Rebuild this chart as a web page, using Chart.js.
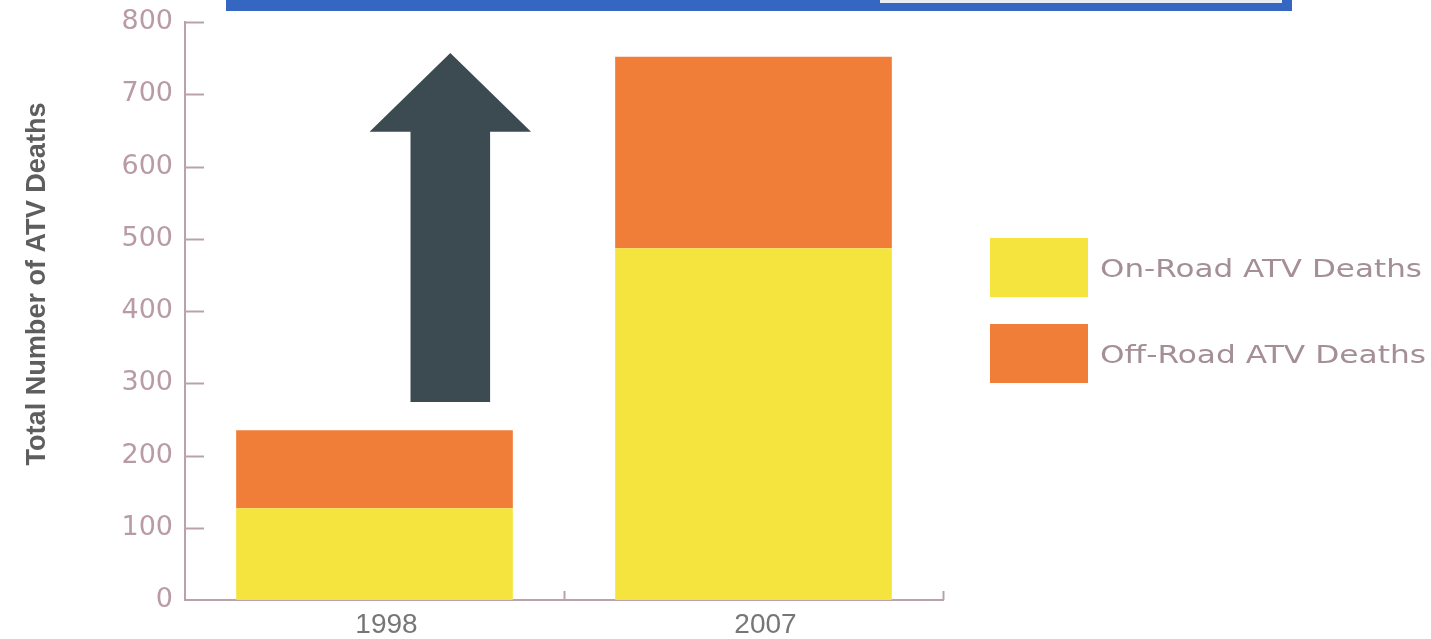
<!DOCTYPE html>
<html>
<head>
<meta charset="utf-8">
<script src="https://cdn.jsdelivr.net/npm/chart.js@4"></script>
<style>
  html, body { margin: 0; padding: 0; background: #fff; }
  #wrap { width: 1431px; height: 639px; position: relative; }
</style>
</head>
<body>
<div id="wrap"><canvas id="chart"></canvas></div>
<script>
// data
const years = ['1998', '2007'];
const onRoadDeaths = [127, 487];
const offRoadDeaths = [108, 265];
const seriesLabels = ['On-Road ATV Deaths', 'Off-Road ATV Deaths'];
const yAxisTitle = 'Total Number of ATV Deaths';

// the big "increase" arrow, in data units (category index / deaths)
const arrowAt = 0.2;
const arrowFrom = 274;
const arrowHeadBase = 648;
const arrowTip = 757;

const YELLOW = '#f5e43d';
const ORANGE = '#f07d38';
const AXIS = '#b9a2aa';

// blue banner at the top, axis ticks, title, arrow and legend
const decorPlugin = {
    id: 'decor',
    beforeDraw(chart) {
        const ctx = chart.ctx;
        ctx.save();
        ctx.fillStyle = '#fff';
        ctx.fillRect(0, 0, chart.width, chart.height);
        // cropped banner edge
        ctx.fillStyle = '#3566c2';
        ctx.fillRect(226, 0, 1066, 11);
        ctx.fillStyle = '#e9edf4';
        ctx.fillRect(880, 0, 402, 3);
        ctx.restore();
    },
    afterDatasetsDraw(chart) {
        const ctx = chart.ctx;
        const x = chart.scales.x;
        const y = chart.scales.y;
        const area = chart.chartArea;
        ctx.save();

        // inward tick marks on y axis
        ctx.strokeStyle = AXIS;
        ctx.lineWidth = 2;
        y.ticks.forEach((t, i) => {
            if (t.value === 0) return;
            const py = Math.round(y.getPixelForTick(i)) + 0.5;
            ctx.beginPath();
            ctx.moveTo(area.left, py);
            ctx.lineTo(area.left + 19, py);
            ctx.stroke();
        });
        // category boundary ticks on x axis
        [0.5, 1.5].forEach(v => {
            const px = Math.round(x.getPixelForValue(v)) + 0.5;
            ctx.beginPath();
            ctx.moveTo(px, area.bottom);
            ctx.lineTo(px, area.bottom - 9);
            ctx.stroke();
        });

        // arrow
        const cx = x.getPixelForValue(arrowAt);
        const unit = x.getPixelForValue(1) - x.getPixelForValue(0);
        const shaft = unit * 0.105;
        const head = unit * 0.213;
        const yb = y.getPixelForValue(arrowFrom);
        const yh = y.getPixelForValue(arrowHeadBase);
        const yt = y.getPixelForValue(arrowTip);
        ctx.fillStyle = '#3c4a52';
        ctx.beginPath();
        ctx.moveTo(cx - shaft, yb);
        ctx.lineTo(cx - shaft, yh);
        ctx.lineTo(cx - head, yh);
        ctx.lineTo(cx, yt);
        ctx.lineTo(cx + head, yh);
        ctx.lineTo(cx + shaft, yh);
        ctx.lineTo(cx + shaft, yb);
        ctx.closePath();
        ctx.fill();

        // y axis title
        ctx.translate(38, 284);
        ctx.rotate(-Math.PI / 2);
        ctx.font = 'bold 27px "Liberation Sans Narrow", "Liberation Sans", sans-serif';
        ctx.fillStyle = '#5e5e5e';
        ctx.textAlign = 'center';
        ctx.textBaseline = 'middle';
        const tw = ctx.measureText(yAxisTitle).width;
        ctx.scale(363 / tw, 1);
        ctx.fillText(yAxisTitle, 0, 0);
        ctx.restore();

        // legend
        ctx.save();
        ctx.font = '25px "DejaVu Sans", sans-serif';
        ctx.textBaseline = 'middle';
        ctx.textAlign = 'left';
        chart.data.datasets.forEach((ds, i) => {
            const top = [238, 324][i];
            ctx.fillStyle = ds.backgroundColor;
            ctx.fillRect(990, top, 98, 59);
            ctx.fillStyle = '#a48e97';
            const w = ctx.measureText(ds.label).width;
            const target = i === 0 ? 322 : 326;
            ctx.save();
            ctx.translate(1100, top + 32);
            ctx.scale(target / w, 1);
            ctx.fillText(ds.label, 0, 0);
            ctx.restore();
        });
        ctx.restore();
    }
};

new Chart(document.getElementById('chart'), {
    type: 'bar',
    data: {
        labels: years,
        datasets: [
            { label: seriesLabels[0], data: onRoadDeaths, backgroundColor: YELLOW, borderWidth: 0 },
            { label: seriesLabels[1], data: offRoadDeaths, backgroundColor: ORANGE, borderWidth: 0 }
        ]
    },
    options: {
        responsive: true,
        maintainAspectRatio: false,
        animation: false,
        events: [],
        layout: { padding: { top: 22, right: 488, left: 0, bottom: 0 } },
        datasets: { bar: { categoryPercentage: 1, barPercentage: 0.73 } },
        plugins: {
            legend: { display: false },
            tooltip: { enabled: false },
            title: { display: false }
        },
        scales: {
            x: {
                stacked: true,
                offset: true,
                grid: { display: false },
                border: { display: true, color: AXIS, width: 2 },
                ticks: {
                    color: '#767676',
                    font: { family: 'Liberation Sans', size: 28 },
                    padding: 0,
                    labelOffset: 12
                },
                afterFit(scale) { scale.height = 39; }
            },
            y: {
                stacked: true,
                min: 0,
                max: 800,
                grid: { display: false },
                border: { display: true, color: AXIS, width: 2 },
                ticks: {
                    stepSize: 100,
                    color: '#b99ba6',
                    font: { family: 'DejaVu Sans', size: 27 },
                    padding: 4
                },
                afterFit(scale) { scale.width = 185; }
            }
        }
    },
    plugins: [decorPlugin]
});
</script>
</body>
</html>
